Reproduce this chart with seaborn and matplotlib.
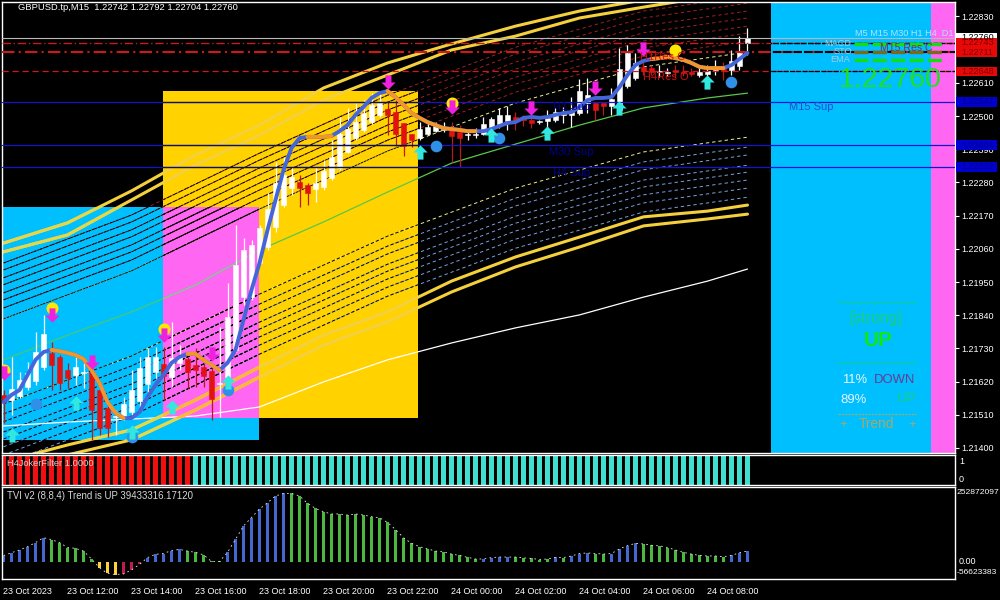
import numpy as np
import pandas as pd
import matplotlib
matplotlib.use("Agg")
import matplotlib.pyplot as plt
from matplotlib.lines import Line2D
from matplotlib.path import Path
from matplotlib.patches import Rectangle
import seaborn as sns

# prices are stored in 1e-5 units
candle_open = [121576, 121559, 121572, 121602, 121622, 121668, 121715, 121702, 121658, 121642, 121649, 121652, 121592, 121533, 121503, 121503, 121519, 121556, 121612, 121652, 121678, 121635, 121682, 121695, 121675, 121668, 121655, 121612, 121635, 121725, 121900, 121900, 122013, 122066, 122132, 122205, 122262, 122282, 122272, 122258, 122265, 122295, 122328, 122381, 122427, 122454, 122480, 122504, 122523, 122513, 122477, 122441, 122427, 122441, 122450, 122454, 122460, 122447, 122437, 122437, 122441, 122460, 122474, 122484, 122497, 122494, 122487, 122480, 122484, 122487, 122504, 122504, 122510, 122543, 122543, 122543, 122533, 122520, 122600, 122626, 122663, 122659, 122646, 122643, 122653, 122646, 122646, 122636, 122639, 122653, 122656, 122653, 122666, 122742]
candle_high = [121592, 121702, 121652, 121685, 121784, 121841, 121751, 121708, 121682, 121702, 121682, 121675, 121599, 121542, 121526, 121569, 121658, 121702, 121731, 121735, 121735, 121818, 121741, 121702, 121731, 121682, 121665, 121801, 121947, 122139, 122096, 122089, 122139, 122245, 122348, 122364, 122331, 122305, 122278, 122331, 122354, 122421, 122497, 122527, 122543, 122553, 122576, 122576, 122547, 122553, 122477, 122441, 122480, 122480, 122480, 122480, 122480, 122470, 122447, 122460, 122497, 122497, 122527, 122533, 122513, 122504, 122497, 122487, 122520, 122527, 122530, 122563, 122623, 122626, 122547, 122547, 122593, 122726, 122736, 122709, 122686, 122669, 122669, 122659, 122669, 122669, 122659, 122659, 122669, 122686, 122679, 122719, 122765, 122792]
candle_low = [121483, 121509, 121566, 121592, 121609, 121658, 121592, 121592, 121599, 121609, 121599, 121427, 121443, 121436, 121443, 121493, 121503, 121533, 121586, 121632, 121559, 121602, 121658, 121599, 121602, 121602, 121493, 121503, 121609, 121718, 121874, 121890, 122006, 122056, 122116, 122199, 122238, 122199, 122205, 122215, 122255, 122288, 122321, 122378, 122421, 122447, 122474, 122497, 122437, 122401, 122368, 122398, 122421, 122437, 122447, 122447, 122348, 122331, 122421, 122427, 122437, 122437, 122460, 122454, 122454, 122467, 122460, 122474, 122460, 122480, 122477, 122464, 122504, 122510, 122487, 122504, 122504, 122513, 122593, 122620, 122636, 122636, 122629, 122633, 122629, 122633, 122633, 122629, 122633, 122636, 122620, 122636, 122653, 122704]
candle_close = [121552, 121596, 121625, 121649, 121718, 121778, 121675, 121615, 121632, 121668, 121652, 121526, 121466, 121466, 121506, 121546, 121592, 121665, 121702, 121702, 121639, 121698, 121702, 121652, 121658, 121639, 121562, 121615, 121834, 122006, 122056, 122073, 122129, 122192, 122278, 122305, 122298, 122262, 122245, 122278, 122318, 122364, 122441, 122457, 122480, 122510, 122537, 122543, 122504, 122441, 122401, 122421, 122457, 122464, 122467, 122457, 122434, 122427, 122441, 122441, 122474, 122490, 122504, 122504, 122484, 122487, 122477, 122484, 122494, 122513, 122507, 122513, 122583, 122570, 122520, 122533, 122557, 122656, 122709, 122676, 122649, 122646, 122649, 122646, 122646, 122643, 122639, 122646, 122649, 122656, 122649, 122683, 122709, 122760]

hull_line = [121552, 121576, 121592, 121642, 121692, 121718, 121725, 121721, 121715, 121708, 121695, 121658, 121615, 121552, 121516, 121499, 121499, 121519, 121569, 121609, 121642, 121682, 121702, 121712, 121712, 121692, 121675, 121658, 121682, 121725, 121824, 121924, 122013, 122122, 122222, 122321, 122394, 122427, 122431, 122431, 122431, 122434, 122450, 122470, 122504, 122530, 122560, 122576, 122583, 122563, 122537, 122510, 122494, 122480, 122470, 122460, 122457, 122454, 122450, 122450, 122450, 122457, 122467, 122477, 122480, 122494, 122497, 122494, 122497, 122504, 122510, 122513, 122530, 122553, 122560, 122560, 122563, 122596, 122636, 122669, 122683, 122689, 122692, 122696, 122692, 122686, 122676, 122663, 122659, 122659, 122659, 122669, 122689, 122709]
hull_down_spans = [(6, 15), (23, 27), (38, 41), (48, 59), (81, 90)]

band_bars = [0, 8, 16, 24, 32, 40, 48, 56, 64, 72, 80, 88, 93]
yellow_a = [122079, 122146, 122252, 122371, 122470, 122593, 122676, 122739, 122798, 122848, 122885, 122911, 122931]
yellow_b = [122050, 122106, 122222, 122338, 122437, 122553, 122636, 122719, 122765, 122825, 122861, 122895, 122911]
yellow_c = [121354, 121410, 121460, 121559, 121668, 121774, 121851, 121953, 122033, 122099, 122166, 122185, 122205]
yellow_d = [121320, 121377, 121427, 121526, 121635, 121741, 121818, 121917, 122000, 122066, 122136, 122159, 122175]
white_ma = [121473, 121486, 121496, 121506, 121536, 121619, 121692, 121748, 121798, 121841, 121900, 121953, 121993]
green_ma = [121692, 121774, 121851, 121940, 122056, 122149, 122248, 122344, 122407, 122470, 122527, 122560, 122576]

fan_bars = [0, 16, 32, 48, 64, 80, 93]
upper_fan = [
    [121828, 121987, 122192, 122384, 122543, 122663, 122712],
    [121864, 122023, 122228, 122420, 122579, 122699, 122748],
    [121891, 122050, 122255, 122447, 122606, 122726, 122775],
    [121914, 122073, 122278, 122470, 122629, 122749, 122798],
    [121941, 122100, 122305, 122497, 122656, 122776, 122825],
    [121964, 122123, 122328, 122520, 122679, 122799, 122848],
    [121990, 122149, 122354, 122546, 122705, 122825, 122874],
    [122013, 122172, 122377, 122569, 122728, 122848, 122897],
]
lower_fan = [
    [121546, 121705, 121910, 122102, 122261, 122381, 122430],
    [121513, 121672, 121877, 122069, 122228, 122348, 122397],
    [121487, 121646, 121851, 122043, 122202, 122322, 122371],
    [121453, 121612, 121817, 122009, 122168, 122288, 122337],
    [121430, 121589, 121794, 121986, 122145, 122265, 122314],
    [121404, 121563, 121768, 121960, 122119, 122239, 122288],
    [121377, 121536, 121741, 121933, 122092, 122212, 122261],
    [121347, 121506, 121711, 121903, 122062, 122182, 122231],
]

magenta_bars = [0, 6, 20, 11, 26, 48, 56, 66, 74, 80]
magenta_prices = [121649, 121841, 121774, 121685, 121712, 122613, 122530, 122527, 122593, 122722]
sun_bars = [0, 6, 20, 56, 84]
sun_prices = [121658, 121864, 121794, 122543, 122719]
cyan_bars = [1, 9, 16, 21, 28, 52, 68, 77, 88, 61]
cyan_prices = [121443, 121549, 121453, 121536, 121619, 122381, 122444, 122527, 122613, 122437]
dot_bars = [4, 16, 28, 54, 62, 91]
dot_prices = [121546, 121436, 121592, 122401, 122427, 122613]

price_ticks = [1.22830, 1.22720, 1.22610, 1.22500, 1.22390, 1.22280, 1.22170, 1.22060, 1.21950, 1.21840, 1.21730, 1.21620, 1.21510, 1.21400]
res_levels = [1.22743, 1.22711, 1.22648]
sup_levels = [1.22547, 1.22404, 1.22332]
last_price = 1.22760

joker_red_count = 24
tvi_values = [22, 33, 43, 55, 70, 88, 81, 70, 52, 49, 39, 10, -22, -43, -47, -45, -30, -10, 15, 27, 30, 41, 45, 39, 34, 25, 1, 1, 34, 82, 131, 162, 193, 216, 241, 250, 250, 241, 214, 195, 183, 175, 175, 171, 175, 171, 165, 161, 144, 118, 88, 67, 55, 47, 39, 36, 28, 23, 16, 10, 10, 15, 17, 17, 17, 14, 12, 8, 10, 16, 15, 21, 30, 32, 30, 28, 30, 47, 59, 67, 65, 60, 58, 52, 43, 34, 28, 23, 21, 21, 18, 23, 33, 39]
tvi_states = "bbbbbbgggggg" + "yyyrrr" + "bbbbb" + "ggg" + "gg" + "bbbbbbbb" + "gggggggggggggg" + "gggggggggg" + "bbbb" + "ggggg" + "b" + "g" + "bbb" + "gg" + "bbbb" + "ggggggggggg" + "bbb"
date_labels = ["23 Oct 2023", "23 Oct 12:00", "23 Oct 14:00", "23 Oct 16:00", "23 Oct 18:00", "23 Oct 20:00", "23 Oct 22:00", "24 Oct 00:00", "24 Oct 02:00", "24 Oct 04:00", "24 Oct 06:00", "24 Oct 08:00"]

CYAN = "#00bfff"
PINK = "#ff66f2"
GOLD = "#ffd200"
BULL = "#ffffff"
BEAR = "#e21212"
ROYAL = "#4466d8"
ORANGE = "#f2962a"
XLIM = (-0.19, 118.94)

sns.set_style("dark", {"axes.facecolor": "black", "figure.facecolor": "black"})
plt.rcParams["font.family"] = ["Liberation Sans", "DejaVu Sans"]


def px(x, y):
    return x / 1000, 1 - y / 600


def make_axes(fig, top, bottom):
    ax = fig.add_axes([2 / 1000, 1 - bottom / 600, 953 / 1000, (bottom - top) / 600])
    ax.set_facecolor("black")
    for side in ax.spines.values():
        side.set_color("white")
        side.set_linewidth(1)
    ax.grid(False)
    return ax


def draw_line(ax, xs, ys, color, lw=0.8, ls="-", z=2, clip=None):
    sns.lineplot(x=xs, y=ys, ax=ax, color=color, linewidth=lw, linestyle=ls,
                 estimator=None, sort=False, legend=False, zorder=z)
    line = ax.lines[-1]
    if clip is not None:
        line.set_clip_path(clip)
    return line


def label(fig, x, y, s, color, size=6.6, **kw):
    fx, fy = px(x, y)
    fig.text(fx, fy, s, color=color, fontsize=size, va="center", **kw)


def panel_rule(fig, x0, x1, y, color, lw=1.0, ls="-"):
    (a, b), (c, d) = px(x0, y), px(x1, y)
    fig.add_artist(Line2D([a, c], [b, d], color=color, lw=lw, ls=ls, transform=fig.transFigure))


def main():
    fig = plt.figure(figsize=(10, 6), dpi=100, facecolor="black")
    ax = make_axes(fig, 2, 453)
    ax.set_xlim(*XLIM)
    ax.set_ylim(1.213834, 1.22878)

    bars = np.arange(len(candle_open))
    opens = np.array(candle_open) / 1e5
    highs = np.array(candle_high) / 1e5
    lows = np.array(candle_low) / 1e5
    closes = np.array(candle_close) / 1e5

    # session boxes
    gold = ax.add_patch(Rectangle((19.94, 1.21499), 31.86, 1.22583 - 1.21499, color=GOLD, lw=0, zorder=1))
    cyan = ax.add_patch(Rectangle((-0.19, 1.21426), 32.13, 1.22199 - 1.21426, color=CYAN, lw=0, zorder=1.1))
    pink = ax.add_patch(Rectangle((19.94, 1.21499), 12.0, 1.22199 - 1.21499, color=PINK, lw=0, zorder=1.2))
    side_cyan = ax.add_patch(Rectangle((95.9, 1.2), 20.0, 0.1, color=CYAN, lw=0, zorder=1))
    side_pink = ax.add_patch(Rectangle((115.9, 1.2), 3.04, 0.1, color=PINK, lw=0, zorder=1))
    boxes = [gold, cyan, pink]

    # fan lines, black where they cross a box
    fan_x = np.array(fan_bars)
    for i, row in enumerate(upper_fan):
        ys = np.array(row) / 1e5
        col = "#f0f090" if i == 0 else "#a02020"
        draw_line(ax, fan_x, ys, col, lw=0.7, ls=(0, (3.5, 3)))
        for box in boxes:
            dash = (0, (3, 0.6)) if box is not pink else (0, (3.5, 1.5))
            draw_line(ax, fan_x, ys, "black", lw=0.65, ls=dash, z=2.1, clip=box)
    for i, row in enumerate(lower_fan):
        ys = np.array(row) / 1e5
        col = "#f0f090" if i == 0 else "#7aa0e0"
        draw_line(ax, fan_x, ys, col, lw=0.7, ls=(0, (3.5, 3)))
        for box in boxes:
            draw_line(ax, fan_x, ys, "black", lw=0.7, ls=(0, (3.5, 2)), z=2.1, clip=box)

    band_x = np.array(band_bars)
    for band in (yellow_a, yellow_b, yellow_c, yellow_d):
        ys = np.array(band) / 1e5
        draw_line(ax, band_x, ys, "#f4d03c", lw=2.2, z=2.3)
        draw_line(ax, band_x, ys, "#e4d84a", lw=2.2, z=2.35, clip=cyan)
        draw_line(ax, band_x, ys, "#ffb43c", lw=2.2, z=2.4, clip=pink)
    draw_line(ax, band_x, np.array(white_ma) / 1e5, "white", lw=0.9, z=2.2)
    green = np.array(green_ma) / 1e5
    draw_line(ax, band_x, green, "#58c848", lw=0.9, z=2.2)
    draw_line(ax, band_x, green, "#30c8a0", lw=0.9, z=2.25, clip=cyan)
    draw_line(ax, band_x, green, "#b4b4b4", lw=0.9, z=2.3, clip=pink)

    # candles
    up = closes >= opens
    ax.vlines(bars[up], lows[up], highs[up], color=BULL, lw=0.9, zorder=3)
    ax.vlines(bars[~up], lows[~up], highs[~up], color="#b81a1a", lw=0.9, zorder=3)
    ax.bar(bars[up], (closes - opens)[up], bottom=opens[up], width=0.7, color=BULL, edgecolor=BULL, lw=0.4, zorder=3.1)
    ax.bar(bars[~up], (opens - closes)[~up], bottom=closes[~up], width=0.7, color=BEAR, edgecolor=BEAR, lw=0.4, zorder=3.1)

    # level lines
    draw_line(ax, list(XLIM), [last_price] * 2, "#b8b8b8", lw=0.8, z=3.2)
    for level, ls, lw in zip(res_levels, [(0, (6, 2, 1, 2)), (0, (6, 2, 1, 2)), (0, (5, 3))], [1.0, 1.5, 0.9]):
        draw_line(ax, list(XLIM), [level] * 2, "#d01818", lw=lw, ls=ls, z=3.3)
        for box in (side_cyan, side_pink):
            draw_line(ax, list(XLIM), [level] * 2, "black", lw=lw, ls=(0, (4, 1)), z=3.35, clip=box)
    for level in sup_levels:
        draw_line(ax, list(XLIM), [level] * 2, "#1414c8", lw=0.9, z=3.3)
        draw_line(ax, list(XLIM), [level] * 2, "#10104a", lw=0.9, z=3.35, clip=gold)

    # hull line, orange while falling
    hull = np.array(hull_line) / 1e5
    draw_line(ax, bars, hull, ROYAL, lw=2.8, z=4)
    for a, b in hull_down_spans:
        draw_line(ax, bars[a:b + 1], hull[a:b + 1], ORANGE, lw=2.8, z=4.1)

    # signal markers
    up_arrow = Path([(-0.42, -1), (0.42, -1), (0.42, 0), (1, 0), (0, 1), (-1, 0), (-0.42, 0), (-0.42, -1)], closed=True)
    down_arrow = Path([(-0.42, 1), (0.42, 1), (0.42, 0), (1, 0), (0, -1), (-1, 0), (-0.42, 0), (-0.42, 1)], closed=True)
    ax.scatter(dot_bars, np.array(dot_prices) / 1e5, s=70, color="#3090e8", lw=0, zorder=5)
    ax.scatter(sun_bars, np.array(sun_prices) / 1e5, s=75, color="#ffe800", lw=0, zorder=5.1)
    ax.scatter(magenta_bars, np.array(magenta_prices) / 1e5, s=105, marker=down_arrow, color="#f020e0", lw=0, zorder=5.2)
    ax.scatter(cyan_bars, np.array(cyan_prices) / 1e5, s=105, marker=up_arrow, color="#30e8e0", lw=0, zorder=5.2)

    # price axis
    ax.yaxis.tick_right()
    ax.set_xticks([])
    ax.set_yticks(price_ticks)
    ax.set_yticklabels([f"{t:.5f}" for t in price_ticks])
    ax.tick_params(axis="y", colors="white", length=3, width=0.8, labelsize=6.5, pad=1.5)
    ax.set_xlabel("")
    ax.set_ylabel("")

    # price tags on the right of the axis
    trans = ax.get_yaxis_transform()
    tags = [(last_price, "white", "black"), (res_levels[0], "#e80808", "#800000"), (res_levels[1], "#e80808", "#800000"),
            (res_levels[2], "#e80808", "#800000"), (sup_levels[0], "#0000d0", "#000080"), (sup_levels[1], "#0000d0", "#000080"),
            (sup_levels[2], "#0000d0", "#000080")]
    for price, face, ink in tags:
        ax.add_patch(Rectangle((1.001, price - 0.00016), 0.043, 0.00032, transform=trans, facecolor=face, lw=0, clip_on=False, zorder=6))
        ax.text(1.0065, price, f"{price:.5f}", transform=trans, color=ink, fontsize=6.5, va="center", clip_on=False, zorder=7)

    # joker filter panel
    joker = make_axes(fig, 455, 485)
    joker_df = pd.DataFrame({"bar": bars, "value": 1.0, "state": ["red" if b < joker_red_count else "teal" for b in bars]})
    sns.barplot(data=joker_df, x="bar", y="value", hue="state", palette={"red": "#f01010", "teal": "#40e0d0"},
                native_scale=True, dodge=False, width=0.68, saturation=1, legend=False, ax=joker, lw=0)
    joker.set_xlim(*XLIM)
    joker.set_ylim(0, 1)
    joker.set_xticks([])
    joker.set_yticks([])
    joker.set_xlabel("")
    joker.set_ylabel("")

    # TVI panel
    tvi = make_axes(fig, 487, 579)
    tvi_df = pd.DataFrame({"bar": bars, "value": np.array(tvi_values) * 1e6, "state": list(tvi_states)})
    sns.barplot(data=tvi_df, x="bar", y="value", hue="state",
                palette={"b": "#4468d0", "g": "#4cb840", "y": "#ffd23c", "r": "#c01c50"},
                native_scale=True, dodge=False, width=0.42, saturation=1, legend=False, ax=tvi, lw=0)
    draw_line(tvi, bars, tvi_df["value"], "#e8e8e8", lw=0.6, ls=(0, (2, 4)), z=3)
    tvi.set_xlim(*XLIM)
    tvi.set_ylim(-63.4e6, 273.8e6)
    tvi.set_xticks(np.arange(len(date_labels)) * 8 - 0.06)
    tvi.set_xticklabels(date_labels, ha="left")
    tvi.tick_params(axis="x", colors="white", length=4, width=0.8, labelsize=6.5, pad=2)
    tvi.set_yticks([])
    tvi.set_xlabel("")
    tvi.set_ylabel("")

    # chart texts
    label(fig, 18, 8, "GBPUSD.tp,M15  1.22742 1.22792 1.22704 1.22760", "white", 6.75)
    label(fig, 7, 463, "H4JokerFilter 1.0000", "#d0d0d0", 6.7)
    label(fig, 7, 496, "TVI v2 (8,8,4) Trend is UP 39433316.17120", "#d8d8d8", 6.9)
    label(fig, 959, 462, "1", "white", 6.5)
    label(fig, 959, 479, "0", "white", 6.5)
    label(fig, 957, 493, "252872097", "white", 6.1)
    label(fig, 959, 562, "0.00", "white", 6.5)
    label(fig, 957, 573, "-56623383", "white", 6.1)

    label(fig, 789, 107, "M15 Sup", "#1a50d0", 8)
    label(fig, 553, 107, "H1 Sup", "#000090", 8)
    label(fig, 549, 152, "M30 Sup", "#000090", 8)
    label(fig, 553, 173, "H4 Sup", "#000090", 8)
    label(fig, 640, 57, "H1Res C", "#d01010", 8)
    label(fig, 643, 77, "H4Res O", "#d01010", 8)

    label(fig, 855, 33, "M5 M15 M30 H1 H4  D1", "#b0e4ff", 6.6)
    label(fig, 824, 43, "MACD", "#a4cce0", 6.6)
    label(fig, 834, 51, "STO", "#a4cce0", 6.6)
    label(fig, 830, 60, "EMA", "#a4cce0", 6.6)
    panel_rule(fig, 854, 943, 44, "#10e010", 2.4, (0, (4.2, 1.3)))
    panel_rule(fig, 854, 943, 52, "#7a6a20", 2.4, (0, (4.2, 1.3)))
    panel_rule(fig, 854, 943, 60, "#10e010", 2.4, (0, (4.2, 1.3)))
    label(fig, 880, 48, "M15 Res C", "#703848", 7.6)
    label(fig, 839, 80, "1.22760", "#20e020", 20.5)

    panel_rule(fig, 838, 916, 302, "#18d070", 1.0, (0, (1, 0.6)))
    label(fig, 850, 318, "[strong]", "#18d078", 11.4)
    label(fig, 864, 341, "UP", "#10e810", 15, fontweight="bold")
    panel_rule(fig, 838, 916, 363, "#18d070", 1.0, (0, (1, 0.6)))
    label(fig, 842, 380, "11%", "#e8f4ff", 9.4)
    label(fig, 874, 380, "DOWN", "#6a3a90", 9.4)
    label(fig, 840, 400, "89%", "#e8f4ff", 9.4)
    label(fig, 897, 399, "UP", "#18d078", 9.4)
    panel_rule(fig, 838, 916, 414, "#a8a868", 0.8, (0, (2, 1)))
    label(fig, 839, 425, "+", "#a8a868", 9.4)
    label(fig, 859, 424, "Trend", "#a8a868", 9.9)
    label(fig, 908, 425, "+", "#a8a868", 9.4)

    fig.savefig("out.png", dpi=100, facecolor="black")


if __name__ == "__main__":
    main()
